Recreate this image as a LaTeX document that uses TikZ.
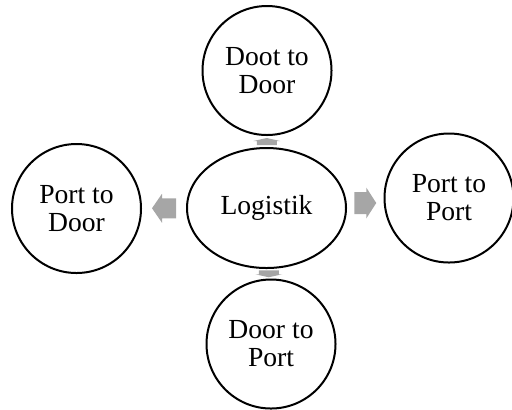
\documentclass[tikz,border=0pt]{standalone}
\usepackage{fontspec}
\setmainfont{Liberation Serif}
\usepackage{tikz}
\usetikzlibrary{shapes.geometric,calc}

\definecolor{arrowgray}{HTML}{A6A6A6}

\tikzset{
    caseround/.style={circle, draw, line width=1pt, minimum size=64.5pt, inner sep=0pt, align=center,
        font=\rmfamily\fontsize{13.8}{14}\selectfont},
    arrowfill/.style={fill=arrowgray}
}

\begin{document}
\begin{tikzpicture}[x=0.5pt,y=-0.5pt]
                    \useasboundingbox (0, 0) rectangle (512, 409);
                    \begin{scope}
                        \node[ellipse, draw, line width=1pt, minimum width=79.5pt, minimum height=60pt, inner sep=0pt,
                            font=\rmfamily\fontsize{13.8}{14}\selectfont] (logistik) at (266.5, 208) {Logistik};
                        \node[caseround] (d2d) at (267, 70.5) {Doot to\\Door};
                        \node[caseround] (d2p) at (271, 344) {Door to\\Port};
                        \node[caseround] (p2d) at (76.5, 208.5) {Port to\\Door};
                        \node[caseround] (p2p) at (449, 198) {Port to\\Port};
                    \end{scope}
                    % block arrows between the middle and the four cases
                    \begin{scope}[shift={($(logistik.west)!0.5!(p2d.east)$)}, rotate=180]
                        \fill[arrowfill] (-12, -10) -- (2, -10) -- (2, -14.5) -- (12, 0) -- (2, 14.5) -- (2, 10) -- (-12, 10) -- cycle;
                    \end{scope}
                    \begin{scope}[shift={($(logistik.east)!0.5!(p2p.west)$)}]
                        \fill[arrowfill] (-11, -11) -- (1, -11) -- (1, -15.5) -- (11, 0) -- (1, 15.5) -- (1, 11) -- (-11, 11) -- cycle;
                    \end{scope}
                    \begin{scope}[shift={($(logistik.north)!0.5!(d2d.south)$)}, rotate=90]
                        \fill[arrowfill] (-3.5, -10) -- (0.5, -10) -- (0.5, -13.5) -- (3.5, 0) -- (0.5, 13.5) -- (0.5, 10) -- (-3.5, 10) -- cycle;
                    \end{scope}
                    \begin{scope}[shift={($(logistik.south)!0.5!(d2p.north)$)}, rotate=-90]
                        \fill[arrowfill] (-3.5, -10) -- (0.5, -10) -- (0.5, -13.5) -- (3.5, 0) -- (0.5, 13.5) -- (0.5, 10) -- (-3.5, 10) -- cycle;
                    \end{scope}
                \end{tikzpicture}
\end{document}
